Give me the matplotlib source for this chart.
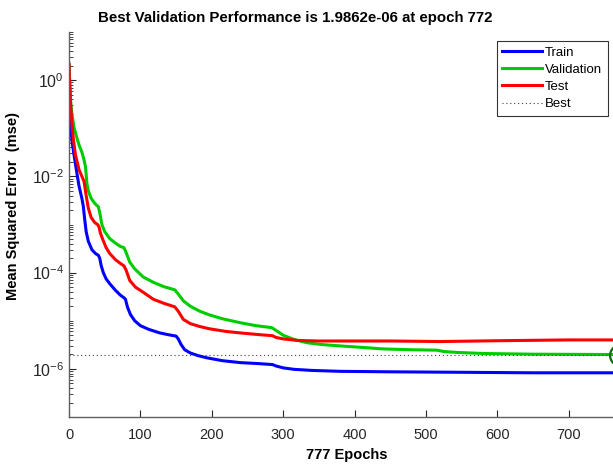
import matplotlib
matplotlib.use('Agg')
import matplotlib.pyplot as plt
from matplotlib.ticker import FixedLocator, NullFormatter

plt.rcParams['font.family'] = ['Liberation Sans', 'DejaVu Sans']
plt.rcParams['mathtext.fontset'] = 'custom'
plt.rcParams['mathtext.rm'] = 'Liberation Sans'
plt.rcParams['mathtext.it'] = 'Liberation Sans:italic'
plt.rcParams['mathtext.bf'] = 'Liberation Sans:bold'

# TRAINING RECORD
train_epochs = [0, 1, 2, 4, 7, 11, 14, 18, 20, 22, 24, 27, 32, 37, 41, 43, 45, 48, 52,
                57, 65, 72, 77, 79, 82, 86, 92, 100, 112, 127, 140, 150, 153, 157, 162,
                170, 180, 193, 215, 240, 265, 285, 290, 300, 315, 340, 380, 450, 550,
                650, 777]
train_mse = [2.0, 0.63, 0.14, 0.056, 0.028, 0.0117, 0.0063, 0.0035, 0.0024, 0.00126,
             7.1e-4, 4.5e-4, 3.0e-4, 2.5e-4, 2.3e-4, 2.0e-4, 1.41e-4, 1.0e-4, 7.4e-5,
             5.9e-5, 4.3e-5, 3.4e-5, 3.0e-5, 2.8e-5, 1.9e-5, 1.35e-5, 1.0e-5, 7.9e-6,
             6.6e-6, 5.6e-6, 5.1e-6, 4.8e-6, 4.2e-6, 3.2e-6, 2.5e-6, 2.14e-6, 1.9e-6,
             1.7e-6, 1.48e-6, 1.35e-6, 1.29e-6, 1.23e-6, 1.15e-6, 1.05e-6, 9.8e-7,
             9.3e-7, 8.9e-7, 8.7e-7, 8.5e-7, 8.3e-7, 8.3e-7]

val_epochs = [0, 1, 2, 4, 7, 10, 14, 18, 21, 23, 24, 25, 27, 31, 36, 41, 43, 46, 50,
              57, 65, 72, 77, 80, 85, 92, 104, 118, 133, 148, 153, 160, 170, 183, 197,
              215, 240, 262, 284, 290, 300, 315, 333, 355, 380, 410, 440, 480, 515,
              525, 543, 580, 650, 720, 772, 777]
val_mse = [2.2, 0.79, 0.40, 0.20, 0.105, 0.071, 0.045, 0.032, 0.022, 0.016, 0.011,
           0.0071, 0.005, 0.0035, 0.00275, 0.00234, 0.00178, 0.001, 7.1e-4, 5.1e-4,
           4.1e-4, 3.5e-4, 3.3e-4, 2.6e-4, 1.66e-4, 1.2e-4, 8.1e-5, 6.3e-5, 5.1e-5,
           4.4e-5, 3.6e-5, 2.6e-5, 2.0e-5, 1.58e-5, 1.32e-5, 1.1e-5, 9.1e-6, 7.9e-6,
           7.2e-6, 6.3e-6, 5.0e-6, 4.1e-6, 3.5e-6, 3.2e-6, 3.0e-6, 2.8e-6, 2.6e-6,
           2.5e-6, 2.45e-6, 2.3e-6, 2.2e-6, 2.09e-6, 2.02e-6, 2.0e-6, 1.9862e-6,
           1.99e-6]

test_epochs = [0, 1, 2, 4, 6, 9, 14, 18, 21, 24, 27, 31, 36, 40, 42, 44, 47, 52, 57,
               65, 72, 77, 80, 85, 93, 104, 118, 133, 148, 153, 160, 170, 183, 197,
               220, 245, 270, 285, 290, 300, 320, 350, 450, 520, 600, 700, 777]
test_mse = [2.1, 0.8, 0.35, 0.13, 0.06, 0.028, 0.0138, 0.010, 0.0079, 0.004, 0.0022,
            0.0014, 0.0011, 0.001, 8.9e-4, 6.6e-4, 5.0e-4, 3.3e-4, 2.5e-4, 1.86e-4,
            1.55e-4, 1.38e-4, 1.12e-4, 6.9e-5, 5.0e-5, 3.9e-5, 2.8e-5, 2.3e-5, 1.95e-5,
            1.58e-5, 1.07e-5, 8.7e-6, 7.6e-6, 6.8e-6, 6.0e-6, 5.5e-6, 5.1e-6, 4.9e-6,
            4.5e-6, 4.2e-6, 3.9e-6, 3.8e-6, 3.8e-6, 3.7e-6, 3.85e-6, 4.0e-6, 4.0e-6]

BEST_EPOCH = 772
BEST_PERF = 1.9862e-06
TOTAL_EPOCHS = 777

x_ticks = [0, 100, 200, 300, 400, 500, 600, 700]
y_major = [1e-6, 1e-4, 1e-2, 1e0]

fig = plt.figure(figsize=(6.13, 4.67), dpi=100)
ax = fig.add_axes([0.1126, 0.107, 0.905, 0.8245])

ax.plot(train_epochs, train_mse, color=(0, 0, 1), lw=2.2, label='Train')
ax.plot(val_epochs, val_mse, color=(0, 0.8, 0), lw=2.2, label='Validation')
ax.plot(test_epochs, test_mse, color=(1, 0, 0), lw=2.2, label='Test')
ax.axhline(BEST_PERF, color='#404040', lw=0.8, ls=(0, (1, 2.5)), label='Best')
ax.plot([BEST_EPOCH], [BEST_PERF], 'o', ms=15, mfc='none', mec=(0, 0.45, 0), mew=1.6,
        clip_on=False)

ax.set_yscale('log')
ax.set_xlim(0, TOTAL_EPOCHS)
ax.set_ylim(1e-7, 1e1)

ax.xaxis.set_major_locator(FixedLocator(x_ticks))
ax.yaxis.set_major_locator(FixedLocator(y_major))
minor = [m * 10.0 ** e for e in range(-7, 1) for m in range(1, 10)] + [10.0]
minor = [v for v in minor if v not in y_major]
ax.yaxis.set_minor_locator(FixedLocator(minor))
ax.yaxis.set_minor_formatter(NullFormatter())

ax.tick_params(which='both', direction='in', colors='#262626', labelsize=10.5)
ax.tick_params(axis='y', which='major', labelsize=11.5)
ax.tick_params(which='major', length=5, width=0.8)
ax.tick_params(which='minor', length=3, width=0.6)
ax.tick_params(axis='x', pad=8)

for s in ['top', 'right']:
    ax.spines[s].set_visible(False)
for s in ['left', 'bottom']:
    ax.spines[s].set_color('#606060')
    ax.spines[s].set_linewidth(1.0)

ax.set_xlabel('777 Epochs', fontsize=10.5, fontweight='bold', labelpad=4)
ax.set_ylabel('Mean Squared Error  (mse)', fontsize=10.5, fontweight='bold')
ax.yaxis.set_label_coords(-0.088, 0.548)

fig.text(0.481, 0.962, 'Best Validation Performance is 1.9862e-06 at epoch 772',
         ha='center', va='center', fontsize=10.8, fontweight='bold')

leg = ax.legend(loc='upper left', bbox_to_anchor=(497 / 613, 1 - 41 / 467),
                bbox_transform=fig.transFigure, fontsize=9.5, frameon=True,
                fancybox=False, handlelength=3.0, handletextpad=0.25,
                labelspacing=0.38, borderpad=0.4, borderaxespad=0)
leg.get_frame().set_edgecolor('black')
leg.get_frame().set_linewidth(0.8)

fig.savefig('out.png', dpi=100)
